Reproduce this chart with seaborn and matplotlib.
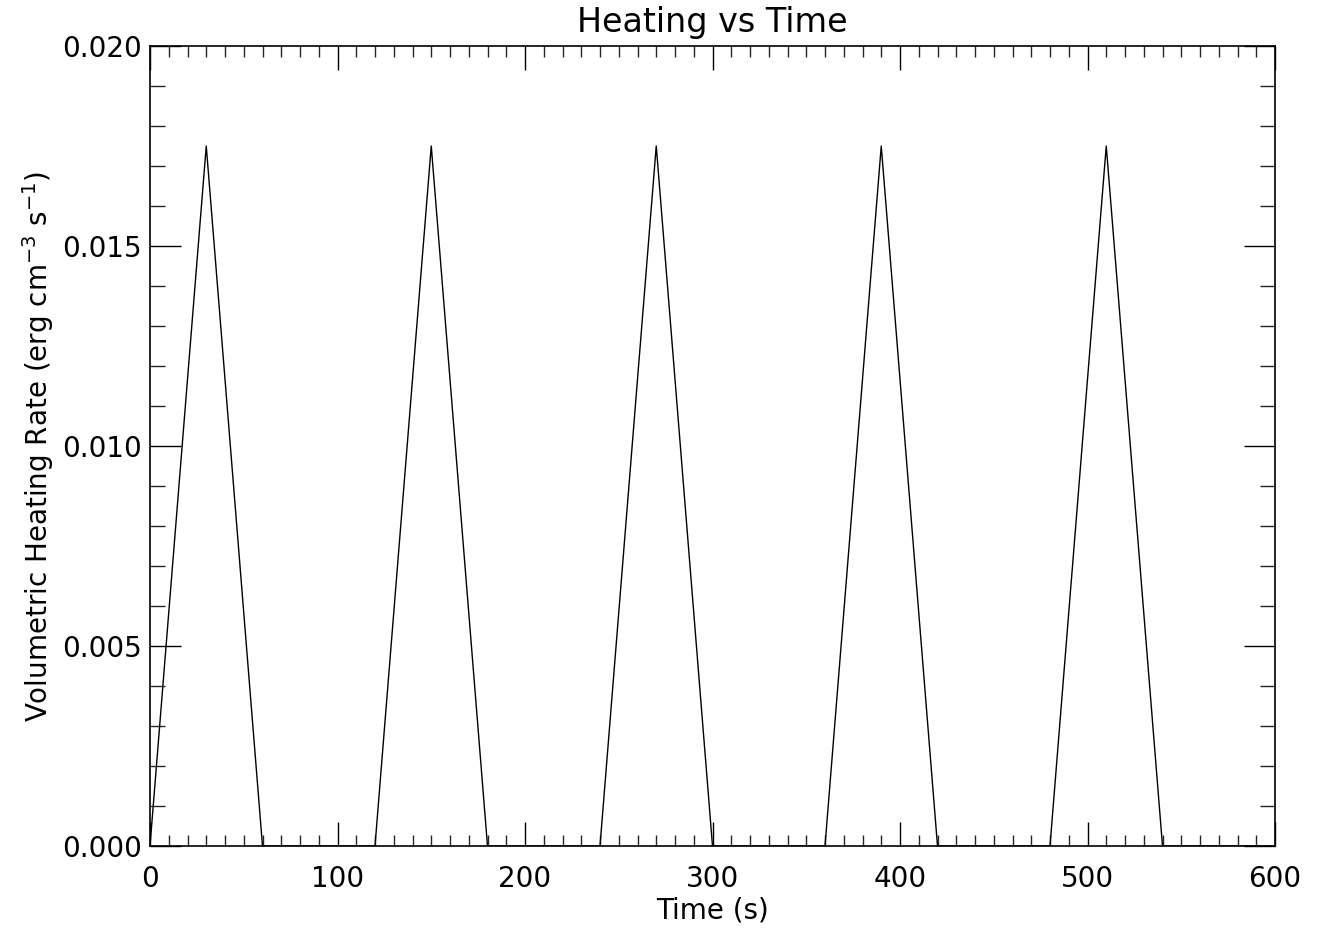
import numpy as np
import matplotlib
matplotlib.use("Agg")
import matplotlib.pyplot as plt
import seaborn as sns
import pandas as pd
from matplotlib.ticker import MultipleLocator

# heating profile: triangles peaking at 0.0175
time_s = [0, 30, 60, 120, 150, 180, 240, 270, 300, 360, 390, 420, 480, 510, 540, 600]
heating = [0.0, 0.0175, 0.0, 0.0, 0.0175, 0.0, 0.0, 0.0175, 0.0,
           0.0, 0.0175, 0.0, 0.0, 0.0175, 0.0, 0.0]
x_ticks = [0, 100, 200, 300, 400, 500, 600]
y_ticks = [0.000, 0.005, 0.010, 0.015, 0.020]
y_ticklabels = ['0.000', '0.005', '0.010', '0.015', '0.020']

df = pd.DataFrame({'Time': time_s, 'Heating': heating})

sns.set_style("ticks")
plt.rcParams['font.family'] = ['DejaVu Sans']
plt.rcParams['text.color'] = 'black'
plt.rcParams['axes.labelcolor'] = 'black'
fs = 20

fig = plt.figure(figsize=(13.25, 9.34), dpi=100)
ax = fig.add_axes([150/1325, 1-846/934, 1125/1325, 800/934])

sns.lineplot(data=df, x='Time', y='Heating', ax=ax, color='black', linewidth=1.0,
             estimator=None, sort=False)

ax.set_xlim(0, 600)
ax.set_ylim(0, 0.020)
ax.set_xticks(x_ticks)
ax.set_xticklabels([str(t) for t in x_ticks], fontsize=fs)
ax.set_yticks(y_ticks)
ax.set_yticklabels(y_ticklabels, fontsize=fs)
ax.xaxis.set_minor_locator(MultipleLocator(10))
ax.yaxis.set_minor_locator(MultipleLocator(0.001))

ax.tick_params(axis='x', which='major', direction='in', length=17, width=1,
               top=True, bottom=True, pad=14, colors='black')
ax.tick_params(axis='x', which='minor', direction='in', length=8, width=1,
               top=True, bottom=True)
ax.tick_params(axis='y', which='major', direction='in', length=22, width=1,
               left=True, right=True, pad=6, colors='black')
ax.tick_params(axis='y', which='minor', direction='in', length=11, width=1,
               left=True, right=True)
for s in ax.spines.values():
    s.set_visible(True)
    s.set_linewidth(1.2)
    s.set_color('black')

ax.set_xlabel('Time (s)', fontsize=20, labelpad=2)
ax.set_ylabel('Volumetric Heating Rate (erg cm$^{-3}$ s$^{-1}$)', fontsize=20, labelpad=4)
ax.set_title('Heating vs Time', fontsize=24, pad=10, color='black')

fig.savefig('out.png', dpi=100)
